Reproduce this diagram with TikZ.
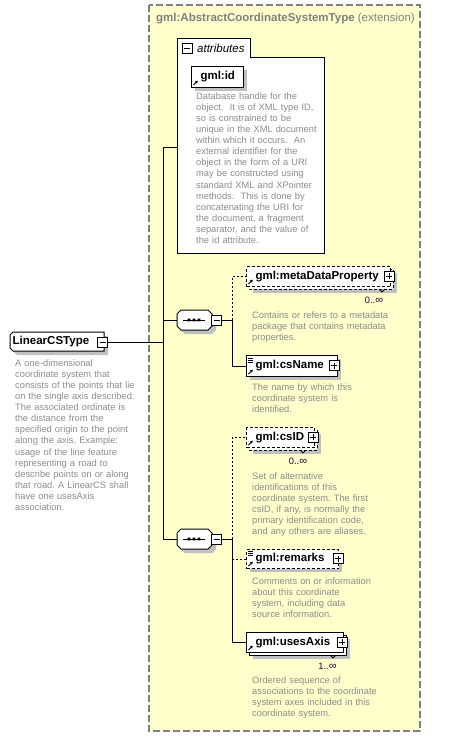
\documentclass[tikz,border=0pt]{standalone}
\usepackage{fontspec}
\setmainfont{Liberation Sans}
\usetikzlibrary{arrows.meta}
\definecolor{frameyellow}{HTML}{FFFFCC}
\definecolor{framegray}{HTML}{808080}
\definecolor{titlegray}{HTML}{808080}
\definecolor{shadowgray}{HTML}{C0C0C0}
\definecolor{descgray}{HTML}{8C8C8C}
\definecolor{multcol}{HTML}{300030}
\newcommand{\infsym}{{\fontsize{11}{11}\selectfont ∞}}
\frenchspacing
\begin{document}
\begin{tikzpicture}[x=1pt,y=-1pt,
  lblfont/.style={font=\fontsize{11.5}{13}\selectfont\bfseries},
  boxline/.style={draw=black, line width=1pt},
  elem/.style={boxline, fill=white, anchor=north west, inner xsep=9pt, inner ysep=0pt, align=left, lblfont},
  optbox/.style={dash pattern=on 3pt off 2pt},
  optdash/.style={dash pattern=on 2pt off 2pt},
  conn/.style={draw=black, line width=1pt},
  desc/.style={anchor=base west, inner sep=0pt, text width=230pt, align=left, text=descgray, font=\fontsize{9.3}{11.08}\selectfont},
  mult/.style={inner sep=0pt, text=multcol, font=\fontsize{9.3}{11}\selectfont},
  shadowfill/.style={fill=shadowgray},
  pmbox/.style={draw=black, fill=white, minimum size=10pt, inner sep=0pt, line width=0.8pt},
  plusbox/.style={pmbox, path picture={\draw[line width=0.8pt] ([xshift=2pt]path picture bounding box.west) -- ([xshift=-2pt]path picture bounding box.east) ([yshift=-2pt]path picture bounding box.north) -- ([yshift=2pt]path picture bounding box.south);}},
  minusbox/.style={pmbox, path picture={\draw[line width=0.8pt] ([xshift=2pt]path picture bounding box.west) -- ([xshift=-2pt]path picture bounding box.east);}},
  refarrow/.style={line width=0.9pt, -{Triangle[length=2.6pt,width=2.8pt]}},
  txticon/.style={line width=0.6pt},
  hidden/.style={inner sep=0pt, anchor=north west}
]
\useasboundingbox (0,0) rectangle (463,737);
% extension frame
\draw[draw=framegray, line width=1.2pt, dash pattern=on 7pt off 3pt, fill=frameyellow] (149,5) rectangle (420,731);
\node[anchor=west, inner sep=0pt, text=titlegray, font=\fontsize{11.5}{13}\selectfont] (title) at (156,19) {\textbf{gml:AbstractCoordinateSystemType} (extension)};

% attributes group
\draw[boxline, fill=white] (177,253) -- (177,38) -- (250,38) -- (250,57) -- (324,57) -- (324,253) -- cycle;
\node[minusbox] (attrm) at (187,48) {};
\node[anchor=west, inner sep=0pt, font=\fontsize{11.5}{13}\selectfont\itshape] (attrlbl) at (197,48) {attributes};
\node[hidden, minimum width=147pt, minimum height=196pt] (attrbox) at (177,57) {};

% gml:id
\fill[shadowfill] (195,70) rectangle (247,91);
\node[elem, text width=34pt, minimum height=21pt] (gmlid) at (191,66) {gml:id};
\draw[refarrow] (193.5,85) -- (197.8,80.7);
\node[desc] (iddesc) at (196,99.4) {Database handle for the\\object.\ \ It is of XML type ID,\\so is constrained to be\\unique in the XML document\\within which it occurs.\ \ An\\external identifier for the\\object in the form of a URI\\may be constructed using\\standard XML and XPointer\\methods.\ \ This is done by\\concatenating the URI for\\the document, a fragment\\separator, and the value of\\the id attribute.};

% LinearCSType
\fill[shadowfill] (17,336) -- (108,336) -- (108,355) -- (17,355) -- (14,352) -- (14,339) -- cycle;
\draw[boxline, fill=white] (13,332) -- (104,332) -- (104,351) -- (13,351) -- (10,348) -- (10,335) -- cycle;
\node[hidden, inner xsep=2.5pt, minimum height=19pt, text width=89pt, align=left, lblfont] (lcs) at (10,332) {LinearCSType};
\node[minusbox] (lcsm) at (102.5,342) {};
\node[desc] (lcsdesc) at (15,366.4) {A one-dimensional\\coordinate system that\\consists of the points that lie\\on the single axis described.\\The associated ordinate is\\the distance from the\\specified origin to the point\\along the axis. Example:\\usage of the line feature\\representing a road to\\describe points on or along\\that road. A LinearCS shall\\have one usesAxis\\association.};

% sequence 1
\fill[shadowfill] (185,314) -- (212,314) -- (216,318) -- (216,330) -- (212,334) -- (185,334) -- (181,330) -- (181,318) -- cycle;
\draw[boxline, fill=white] (181,310) -- (208,310) -- (212,314) -- (212,326) -- (208,330) -- (181,330) -- (177,326) -- (177,314) -- cycle;
\node[hidden, minimum width=35pt, minimum height=20pt] (seq1) at (177,310) {};
\draw[line width=1pt] (183,320) -- (205,320);
\fill (187.7,318.7) rectangle (190.3,321.3) (192.7,318.7) rectangle (195.3,321.3) (197.7,318.7) rectangle (200.3,321.3);
\node[minusbox] (seq1m) at (216.5,320) {};
\coordinate (j1) at (232,320);

% sequence 2
\fill[shadowfill] (185,533) -- (212,533) -- (216,537) -- (216,549) -- (212,553) -- (185,553) -- (181,549) -- (181,537) -- cycle;
\draw[boxline, fill=white] (181,529) -- (208,529) -- (212,533) -- (212,545) -- (208,549) -- (181,549) -- (177,545) -- (177,533) -- cycle;
\node[hidden, minimum width=35pt, minimum height=20pt] (seq2) at (177,529) {};
\draw[line width=1pt] (183,539) -- (205,539);
\fill (187.7,537.7) rectangle (190.3,540.3) (192.7,537.7) rectangle (195.3,540.3) (197.7,537.7) rectangle (200.3,540.3);
\node[minusbox] (seq2m) at (216.5,539) {};
\coordinate (j2) at (232,539);

% metaDataProperty
\fill[shadowfill] (253,273) rectangle (397,293);
\draw[boxline, optbox, fill=white] (249,269) rectangle (393,289);
\node[elem, optbox, text width=126pt, minimum height=20pt] (meta) at (246,266) {gml:metaDataProperty};
\draw[line width=0.8pt] (379,289) -- (382,292) -- (385,289);
\draw[refarrow] (248.5,284) -- (252.8,279.7);
\node[plusbox] (pmeta) at (389,276) {};
\node[mult] (mmeta) at (374,300) {0..\infsym};
\node[desc] (metadesc) at (252,318.4) {Contains or refers to a metadata\\package that contains metadata\\properties.};

% csName
\fill[shadowfill] (250,359) rectangle (341,380);
\node[elem, text width=73pt, minimum height=21pt] (csname) at (246,355) {gml:csName};
\draw[txticon] (247.5,357.8) -- (252.5,357.8) (247.5,359.8) -- (252.5,359.8) (247.5,361.8) -- (252.5,361.8);
\draw[refarrow] (248.5,374) -- (252.8,369.7);
\node[plusbox] (pcsname) at (334,365.5) {};
\node[desc] (csnamedesc) at (252,390.4) {The name by which this\\coordinate system is\\identified.};

% csID
\fill[shadowfill] (253,434) rectangle (321,454);
\draw[boxline, optbox, fill=white] (249,430) rectangle (317,450);
\node[elem, optbox, text width=50pt, minimum height=20pt] (csid) at (246,427) {gml:csID};
\draw[line width=0.8pt] (300,450) -- (303,453) -- (306,450);
\draw[refarrow] (248.5,445) -- (252.8,440.7);
\node[plusbox] (pcsid) at (313,437) {};
\node[mult] (mcsid) at (298,461) {0..\infsym};
\node[desc] (csiddesc) at (252,479.4) {Set of alternative\\identifications of this\\coordinate system. The first\\csID, if any, is normally the\\primary identification code,\\and any others are aliases.};

% remarks
\fill[shadowfill] (250,553) rectangle (342,572);
\node[elem, optbox, text width=74pt, minimum height=19pt] (rem) at (246,549) {gml:remarks};
\draw[txticon] (247.5,551.3) -- (252.5,551.3) (247.5,553.3) -- (252.5,553.3) (247.5,555.3) -- (252.5,555.3);
\draw[refarrow] (248.5,566) -- (252.8,561.7);
\node[plusbox] (prem) at (338,558.5) {};
\node[desc] (remdesc) at (252,584.4) {Comments on or information\\about this coordinate\\system, including data\\source information.};

% usesAxis
\fill[shadowfill] (253,639) rectangle (350,659);
\draw[boxline, fill=white] (249,635) rectangle (346,655);
\node[elem, text width=79pt, minimum height=20pt] (ua) at (246,632) {gml:usesAxis};
\draw[line width=0.8pt] (330,655) -- (333,658) -- (336,655);
\draw[refarrow] (248.5,650) -- (252.8,645.7);
\node[plusbox] (pua) at (342,642) {};
\node[mult] (mua) at (327.5,666) {1..\infsym};
\node[desc] (uadesc) at (252,683.4) {Ordered sequence of\\associations to the coordinate\\system axes included in this\\coordinate system.};

% connectors
\coordinate (vA) at (163,147);
\coordinate (vB) at (163,539);
\draw[conn] (vA) -- (vB);
\draw[conn] (vA) -- (attrbox.west |- vA);
\draw[conn] (lcsm.east) -- (lcsm.east -| vA);
\draw[conn] (vA |- seq1.west) -- (seq1.west);
\draw[conn] (vA |- seq2.west) -- (seq2.west);
\draw[conn] (seq1m.east) -- (j1);
\draw[conn, optdash] (j1) -- (j1 |- meta.west) -- (meta.west);
\draw[conn] (j1) -- (j1 |- csname.west) -- (csname.west);
\draw[conn] (seq2m.east) -- (j2);
\draw[conn, optdash] (j2) -- (j2 |- csid.west) -- (csid.west);
\draw[conn, optdash] (j2 |- rem.west) -- (rem.west);
\draw[conn] (j2) -- (j2 |- ua.west) -- (ua.west);
\end{tikzpicture}
\end{document}
